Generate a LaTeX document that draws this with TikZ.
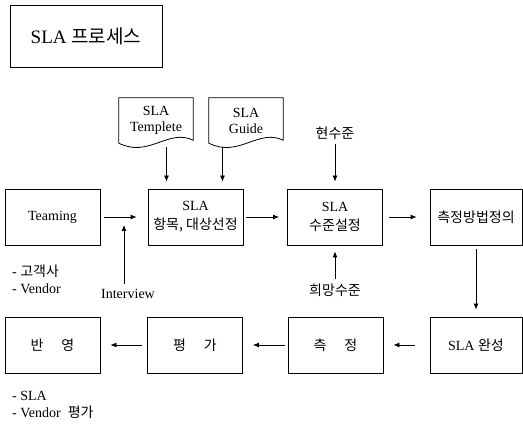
\documentclass[tikz,border=0pt]{standalone}
\usepackage{fontspec}
\setmainfont{Liberation Serif}
\newfontfamily\lat{Liberation Serif}
\newfontfamily\kr{Noto Sans CJK KR}
\usepackage{tikz}
\usetikzlibrary{arrows.meta,positioning,calc}
\tikzset{
    title/.style = {rectangle, draw, line width=0.8pt, minimum width=152pt, minimum height=62pt, inner sep=0pt, font=\lat\fontsize{19}{21}\selectfont},
    stage/.style = {rectangle, draw, line width=0.8pt, minimum width=95pt, minimum height=56pt, inner sep=0pt, align=center, font=\lat\fontsize{14}{19}\selectfont},
    doc/.style = {rectangle, minimum width=74pt, minimum height=45pt, inner sep=0pt, align=center, font=\lat\fontsize{14}{16}\selectfont},
    label/.style = {inner sep=0pt, font=\lat\fontsize{14}{16}\selectfont},
    note/.style = {inner sep=0pt, anchor=west, align=left, font=\lat\fontsize{14}{16.5}\selectfont},
    flow/.style = {-{Latex[length=6pt,width=5pt]}, line width=0.8pt, shorten <=4pt, shorten >=10pt}
}
% document outline with a wavy bottom
\newcommand\docoutline[1]{%
    \draw [line width=0.8pt] (#1.north west) -- (#1.north east) -- ($(#1.south east)+(0,-3)$)
        .. controls ($(#1.south east)+(-25,-15)$) and ($(#1.south west)+(30,15)$) .. (#1.south west) -- cycle;}

\begin{document}
\begin{tikzpicture}[x=1pt, y=-1pt]
    \useasboundingbox (0,0) rectangle (523,427);

    \node [title] (title) at (86,36) {SLA {\kr 프로세스}};

    % first row
    \node [stage] (team) at (52.5,217) {Teaming};
    \node [stage] (sel) at (195.5,217) {SLA\\{\kr 항목, 대상선정}};
    \node [stage] (lvl) at (335,217) {SLA\\{\kr 수준설정}};
    \node [stage, minimum width=92pt] (meth) at (476,217) {\kr 측정방법정의};

    % second row
    \node [stage, minimum width=92pt] (done) at (476,345) {SLA {\kr 완성}};
    \node [stage] (meas) at (335.5,345) {\kr 측\hspace{18pt}정};
    \node [stage] (eval) at (195,345) {\kr 평\hspace{18pt}가};
    \node [stage] (appl) at (52.5,345) {\kr 반\hspace{18pt}영};

    % inputs
    \node [doc] (tmpl) at (156,120.5) {SLA\\Templete};
    \node [doc] (guide) at (246,120.5) {SLA\\Guide};
    \docoutline{tmpl}
    \docoutline{guide}
    \node [label] (cur) at (335,133) {\kr 현수준};
    \node [label] (want) at (335,290) {\kr 희망수준};
    \node [label] (intv) at (128,294) {Interview};

    \node [note] (who) at (12,279.5) {- {\kr 고객사}\\- Vendor};
    \node [note] (out) at (12,405) {- SLA\\- Vendor\ \ {\kr 평가}};

    \draw [flow, shorten >=11pt] (team) -- (sel);
    \draw [flow, shorten <=3pt, shorten >=8pt] (sel) -- (lvl);
    \draw [flow, shorten <=6pt, shorten >=13pt] (lvl) -- (meth);
    \draw [flow, shorten >=7pt] (meth) -- (done);
    \draw [flow, shorten <=15pt] (done) -- (meas);
    \draw [flow, shorten <=3pt] (meas) -- (eval);
    \draw [flow, shorten <=5pt] (eval) -- (appl);

    \coordinate (inA) at ([xshift=-29pt]sel.north);
    \coordinate (inB) at ([xshift=27pt]sel.north);
    \draw [flow, shorten >=7pt] (inA |- tmpl.south) -- (inA);
    \draw [flow, shorten >=7pt] (inB |- guide.south) -- (inB);
    \draw [flow, shorten >=7pt] (cur) -- (lvl.north);
    \draw [flow, shorten >=6pt] (want) -- (lvl.south);

    \coordinate (join) at ($(team.east)!0.5!(sel.west)$);
    \draw [flow, shorten <=5pt, shorten >=8pt] (intv.north -| join) -- (join);
\end{tikzpicture}
\end{document}
